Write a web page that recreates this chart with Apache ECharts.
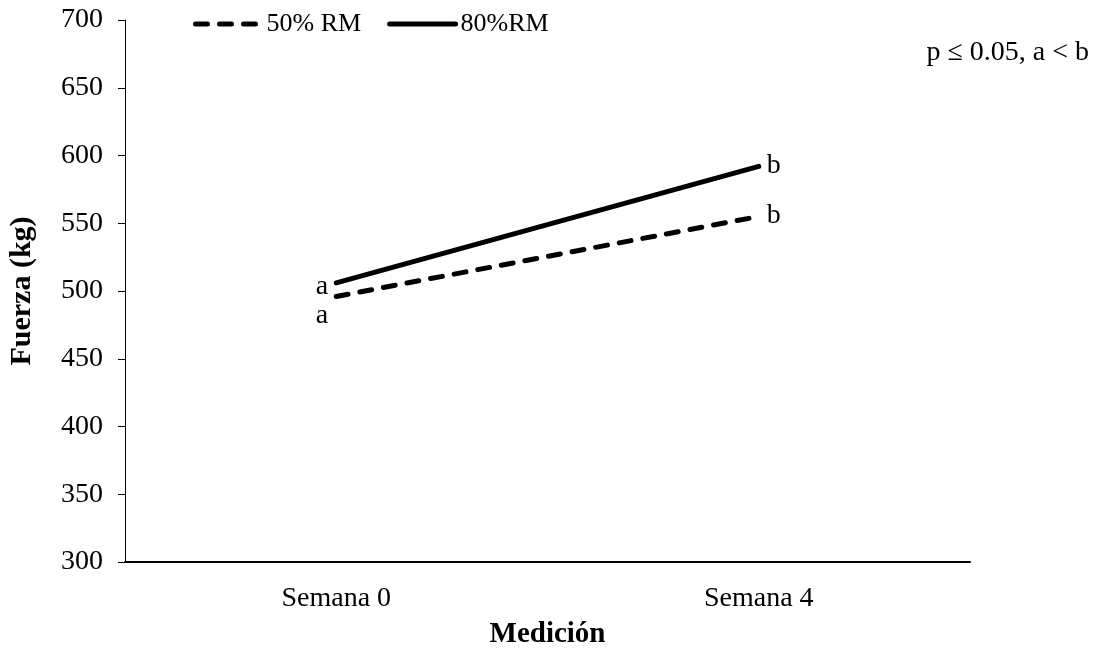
<!DOCTYPE html>
<html>
<head>
<meta charset="utf-8">
<script src="https://cdn.jsdelivr.net/npm/echarts@6/dist/echarts.min.js"></script>
<style>
  html, body { margin: 0; padding: 0; background: #fff; }
  #chart { width: 1099px; height: 652px; }
</style>
</head>
<body>
<div id="chart"></div>
<script>
// Strength (kg) measured at week 0 and week 4 for two training loads
const categories = ['Semana 0', 'Semana 4'];
const seriesNames = ['50% RM', '80%RM'];
const load50 = [496, 555];
const load80 = [506, 592];
const letters50 = ['a', 'b'];
const letters80 = ['a', 'b'];
const yTicks = { min: 300, max: 700, step: 50 };

const FONT = '"Liberation Serif", "Times New Roman", serif';

// significance letters placed beside each point (left at week 0, right at week 4)
function letterPoints(values, letters, lowOffset) {
  return values.map((v, i) => ({
    value: [i, v],
    label: {
      show: true,
      formatter: letters[i],
      position: i === 0 ? 'left' : 'right',
      distance: 8,
      offset: i === 0 ? [0, lowOffset] : [0, -1],
      color: '#000',
      opacity: 1,
      fontFamily: FONT,
      fontSize: 28
    }
  }));
}

const chart = echarts.init(document.getElementById('chart'));
chart.setOption({
  animation: false,
  backgroundColor: '#fff',
  grid: { left: 125, right: 129, top: 20, bottom: 90, outerBoundsMode: 'none', containLabel: false },
  legend: {
    left: 188,
    top: 6,
    itemWidth: 66,
    itemHeight: 14,
    itemGap: 26,
    itemStyle: { color: 'transparent', borderWidth: 0, opacity: 0 },
    lineStyle: { width: 5, cap: 'round' },
    textStyle: { fontFamily: FONT, fontSize: 26, color: '#000' },
    data: seriesNames
  },
  xAxis: {
    type: 'category',
    data: categories,
    boundaryGap: true,
    name: 'Medición',
    nameLocation: 'middle',
    nameGap: 58,
    nameTextStyle: { fontFamily: FONT, fontSize: 29, fontWeight: 'bold', color: '#000' },
    axisLine: { lineStyle: { color: '#000', width: 2 } },
    axisTick: { show: false },
    axisLabel: { fontFamily: FONT, fontSize: 28, color: '#000', margin: 23 }
  },
  yAxis: {
    type: 'value',
    min: yTicks.min,
    max: yTicks.max,
    interval: yTicks.step,
    name: 'Fuerza (kg)',
    nameLocation: 'middle',
    nameGap: 88,
    nameTextStyle: { fontFamily: FONT, fontSize: 30, fontWeight: 'bold', color: '#000' },
    axisLine: { show: true, lineStyle: { color: '#000', width: 1 } },
    axisTick: { show: true, length: 7, lineStyle: { color: '#000' } },
    splitLine: { show: false },
    axisLabel: { fontFamily: FONT, fontSize: 28, color: '#000', margin: 22 }
  },
  series: [
    {
      name: seriesNames[0],
      type: 'line',
      data: load50,
      symbol: 'none',
      itemStyle: { color: '#000' },
      lineStyle: { color: '#000', width: 5, type: [12, 12], cap: 'round' }
    },
    {
      name: seriesNames[1],
      type: 'line',
      data: load80,
      symbol: 'none',
      itemStyle: { color: '#000' },
      lineStyle: { color: '#000', width: 5, type: 'solid', cap: 'round' }
    },
    {
      type: 'scatter',
      data: letterPoints(load50, letters50, 19),
      symbolSize: 0,
      silent: true,
      itemStyle: { color: '#000' }
    },
    {
      type: 'scatter',
      data: letterPoints(load80, letters80, 4),
      symbolSize: 0,
      silent: true,
      itemStyle: { color: '#000' }
    }
  ],
  graphic: [{
    type: 'text',
    right: 10,
    top: 39,
    style: { text: 'p ≤ 0.05, a < b', font: '28px ' + FONT, fill: '#000' }
  }]
});
</script>
</body>
</html>
